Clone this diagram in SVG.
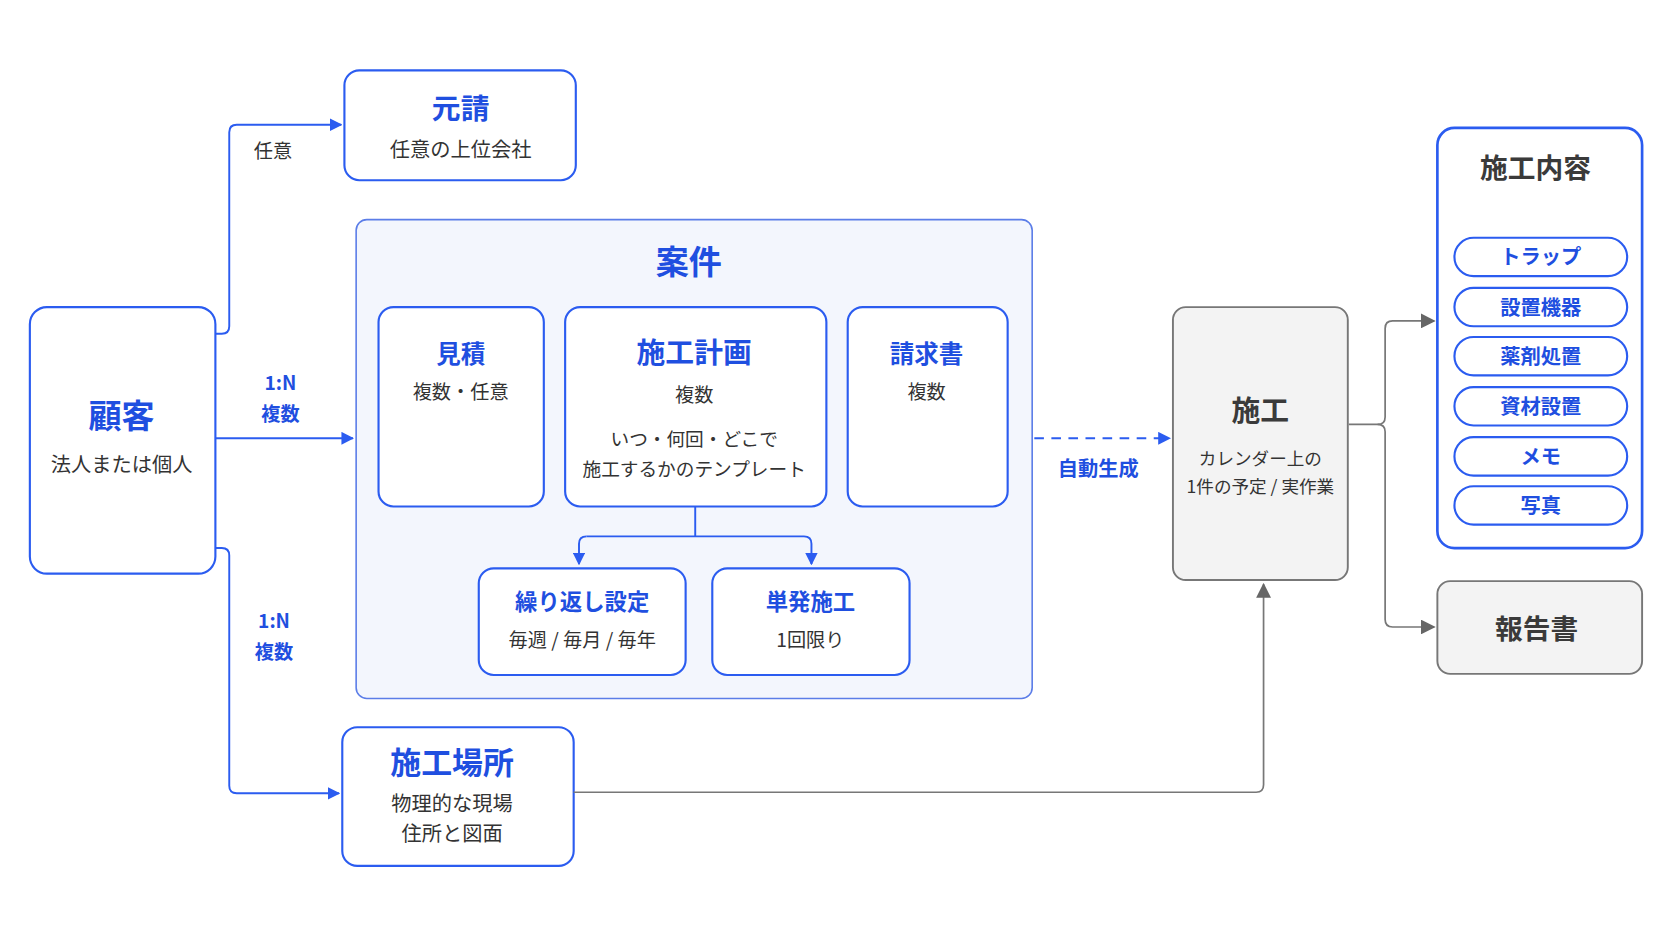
<svg xmlns="http://www.w3.org/2000/svg" width="1672" height="941" viewBox="0 0 1672 941">
<defs>
<style>
text{font-family:"Noto Sans CJK JP","Noto Sans",sans-serif;text-anchor:middle}
.b{fill:#1f4fe0;font-weight:700}
.d{fill:#333}
.dk{fill:#3a3a3a;font-weight:700}
.n{fill:#fff;stroke:#2b5cf0;stroke-width:2}
.g{fill:#f3f3f3;stroke:#777;stroke-width:1.8}
.cb{fill:none;stroke:#2b5cf0;stroke-width:1.8}
.cg{fill:none;stroke:#777;stroke-width:1.6}
</style>
<marker id="ab" viewBox="0 0 10 10" refX="9" refY="5" markerWidth="12" markerHeight="12" markerUnits="userSpaceOnUse" orient="auto"><path d="M0,0L10,5L0,10z" fill="#2b5cf0"/></marker>
<marker id="ag" viewBox="0 0 10 10" refX="9" refY="5" markerWidth="14" markerHeight="14" markerUnits="userSpaceOnUse" orient="auto"><path d="M0,0L10,5L0,10z" fill="#666"/></marker>
</defs>
<rect width="1672" height="941" fill="#fff"/>
<g transform="scale(1.0663)">
<g id="motouke"><rect x="323" y="66" width="217" height="103" rx="14" class="n"/>
<text x="432" y="112" font-size="27" class="b">元請</text><text x="432" y="147" font-size="19" class="d">任意の上位会社</text></g>
<g id="kokyaku"><rect x="28" y="288" width="174" height="250" rx="16" class="n"/>
<text x="114" y="401" font-size="31" class="b">顧客</text><text x="114" y="443" font-size="19" class="d">法人または個人</text></g>
<g id="anken"><rect x="334" y="206" width="634" height="449" rx="10" fill="#f3f6fd" stroke="#5b7de8" stroke-width="1.5"/>
<text x="646" y="257" font-size="31" class="b">案件</text></g>
<g id="mitsumori"><rect x="355" y="288" width="155" height="187" rx="14" class="n" stroke-width="1.5"/>
<text x="432" y="340" font-size="23" class="b">見積</text><text x="432" y="374" font-size="18" class="d">複数・任意</text></g>
<g id="keikaku"><rect x="530" y="288" width="245" height="187" rx="14" class="n" stroke-width="1.5"/>
<text x="651" y="340" font-size="27" class="b">施工計画</text><text x="651" y="377" font-size="18" class="d">複数</text>
<text x="651" y="418" font-size="17.5" class="d">いつ・何回・どこで</text><text x="651" y="446" font-size="17.5" class="d">施工するかのテンプレート</text></g>
<g id="seikyu"><rect x="795" y="288" width="150" height="187" rx="14" class="n" stroke-width="1.5"/>
<text x="869" y="340" font-size="23" class="b">請求書</text><text x="869" y="374" font-size="18" class="d">複数</text></g>
<g id="kurikaeshi"><rect x="449" y="533" width="194" height="100" rx="14" class="n" stroke-width="1.5"/>
<text x="546" y="572" font-size="21" class="b">繰り返し設定</text><text x="546" y="607" font-size="18" class="d">毎週 / 毎月 / 毎年</text></g>
<g id="tanpatsu"><rect x="668" y="533" width="185" height="100" rx="14" class="n" stroke-width="1.5"/>
<text x="760" y="572" font-size="21" class="b">単発施工</text><text x="760" y="607" font-size="18" class="d">1回限り</text></g>
<g id="seko"><rect x="1100" y="288" width="164" height="256" rx="12" class="g"/>
<text x="1182" y="395" font-size="27" class="dk">施工</text><text x="1182" y="436" font-size="16.5" class="d">カレンダー上の</text><text x="1182" y="462" font-size="16.5" class="d">1件の予定 / 実作業</text></g>
<g id="naiyou"><rect x="1348" y="120" width="192" height="394" rx="16" fill="#fff" stroke="#2b5cf0" stroke-width="2.5"/>
<text x="1440" y="167" font-size="26" class="dk">施工内容</text>
<g font-size="19">
<rect x="1364" y="223" width="162" height="36" rx="18" class="n" stroke-width="1.5"/><text x="1445" y="248" class="b">トラップ</text>
<rect x="1364" y="270" width="162" height="36" rx="18" class="n" stroke-width="1.5"/><text x="1445" y="295" class="b">設置機器</text>
<rect x="1364" y="316" width="162" height="36" rx="18" class="n" stroke-width="1.5"/><text x="1445" y="341" class="b">薬剤処置</text>
<rect x="1364" y="363" width="162" height="36" rx="18" class="n" stroke-width="1.5"/><text x="1445" y="388" class="b">資材設置</text>
<rect x="1364" y="410" width="162" height="36" rx="18" class="n" stroke-width="1.5"/><text x="1445" y="435" class="b">メモ</text>
<rect x="1364" y="456" width="162" height="36" rx="18" class="n" stroke-width="1.5"/><text x="1445" y="481" class="b">写真</text>
</g></g>
<g id="houkoku"><rect x="1348" y="545" width="192" height="87" rx="12" class="g"/>
<text x="1441" y="599" font-size="26" class="dk">報告書</text></g>
<g id="basho"><rect x="321" y="682" width="217" height="130" rx="14" class="n"/>
<text x="424" y="726" font-size="29" class="b">施工場所</text><text x="424" y="761" font-size="19" class="d">物理的な現場</text><text x="424" y="789" font-size="19" class="d">住所と図面</text></g>
<g id="connectors">
<path class="cb" d="M202,313H208Q215,313 215,306V124Q215,117 222,117H320" marker-end="url(#ab)"/>
<path class="cb" d="M202,411H331" marker-end="url(#ab)"/>
<path class="cb" d="M202,514H208Q215,514 215,521V737Q215,744 222,744H318" marker-end="url(#ab)"/>
<path class="cb" d="M652,475V503M550,503H754Q761,503 761,510V529" marker-end="url(#ab)"/>
<path class="cb" d="M550,503Q543,503 543,510V529" marker-end="url(#ab)"/>
<path class="cb" d="M970,411H1097" stroke-dasharray="9,7" marker-end="url(#ab)"/>
<path class="cg" d="M538,743H1178Q1185,743 1185,736V548" marker-end="url(#ag)"/>
<path class="cg" d="M1265,398H1292Q1299,398 1299,391V308Q1299,301 1306,301H1345" marker-end="url(#ag)"/>
<path class="cg" d="M1292,398Q1299,398 1299,405V581Q1299,588 1306,588H1345" marker-end="url(#ag)"/>
<text x="256" y="148" font-size="18" class="d">任意</text>
<text x="263" y="366" font-size="18" class="b">1:N</text>
<text x="263" y="395" font-size="18" class="b">複数</text>
<text x="257" y="589" font-size="18" class="b">1:N</text>
<text x="257" y="618" font-size="18" class="b">複数</text>
<text x="1030" y="446" font-size="19" class="b">自動生成</text>
</g>
</g>
</svg>
